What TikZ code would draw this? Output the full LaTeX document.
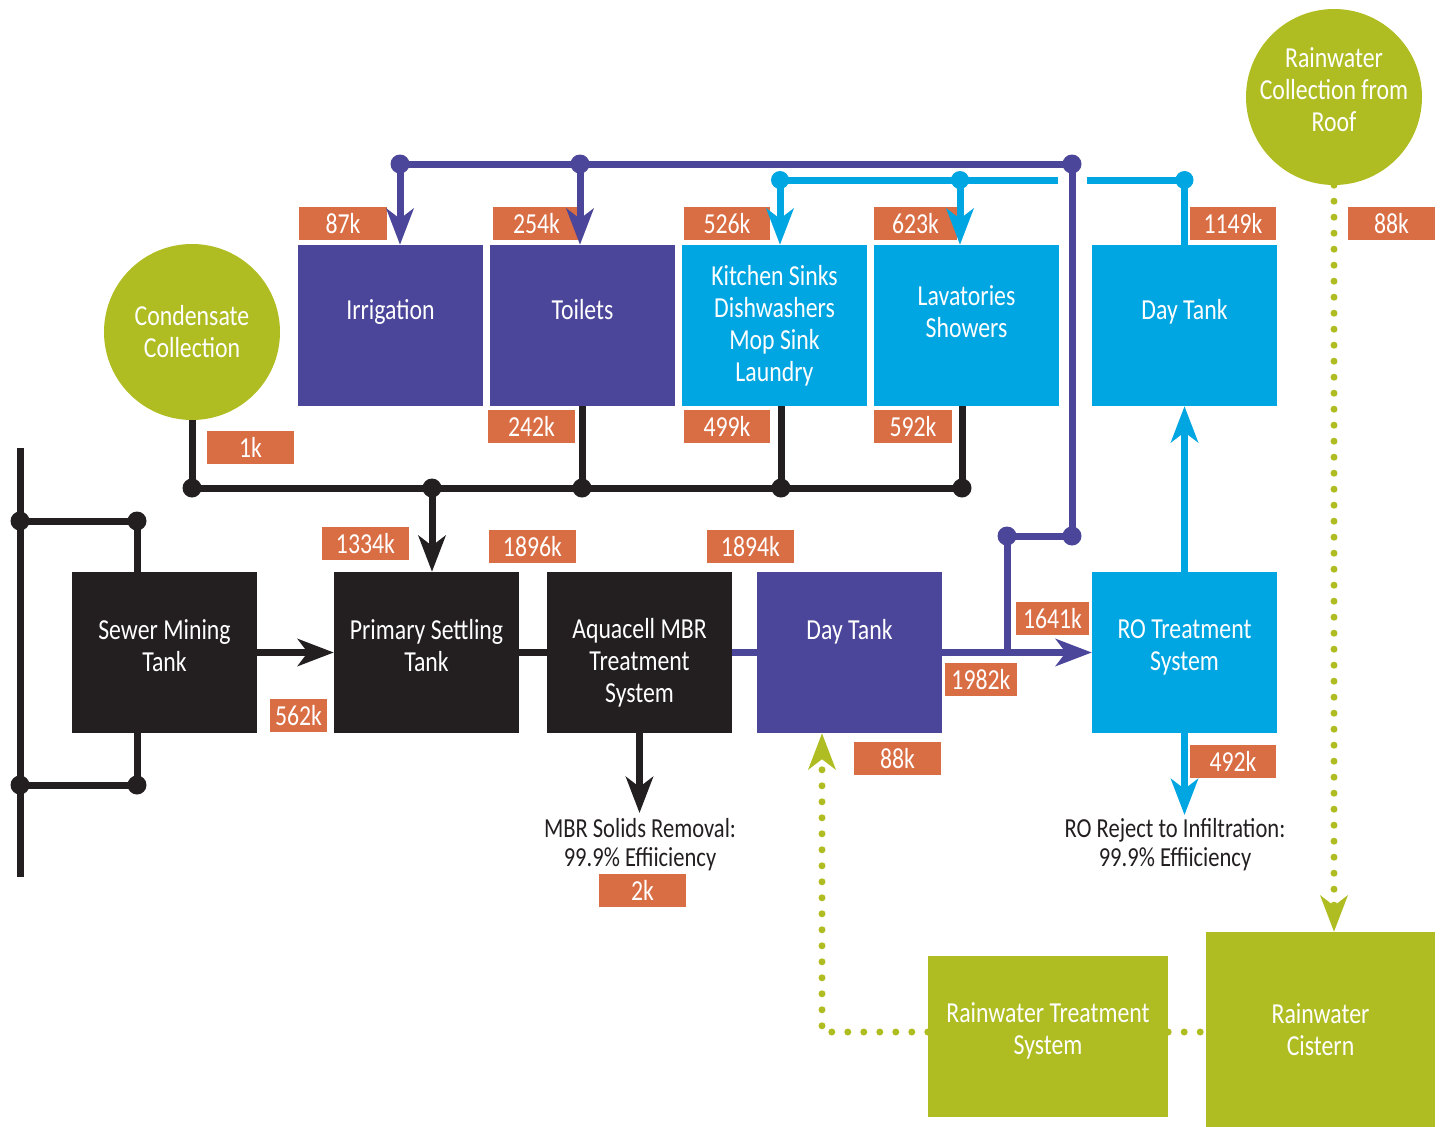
\documentclass[tikz,border=0pt]{standalone}
\usepackage{fontspec}
\setmainfont{Carlito}[FakeStretch=0.82]
\usetikzlibrary{arrows.meta}

\definecolor{wpurple}{RGB}{75,70,153}
\definecolor{wblue}{RGB}{0,166,226}
\definecolor{wblack}{RGB}{35,31,32}
\definecolor{wgreen}{RGB}{175,189,34}
\definecolor{worange}{RGB}{217,109,67}

\newcommand\wboxfont{\fontsize{29}{32}\selectfont}
\newcommand\wtagfont{\fontsize{29}{30}\selectfont}
\newcommand\wnotefont{\fontsize{27.5}{29}\selectfont}

\begin{document}
\begin{tikzpicture}[x=1pt,y=-1pt,
  >={Stealth[length=36pt,width=27pt,inset=10pt]},
  box/.style={minimum width=185pt,minimum height=161pt,inner sep=0pt,text=white,align=center,font=\wboxfont},
  purplebox/.style={box,fill=wpurple},
  bluebox/.style={box,fill=wblue},
  blackbox/.style={box,fill=wblack},
  greenbox/.style={box,fill=wgreen},
  greencircle/.style={circle,fill=wgreen,minimum size=176pt,inner sep=0pt,text=white,align=center,font=\wboxfont},
  flowtag/.style={fill=worange,text=white,minimum width=#1,minimum height=33pt,inner sep=0pt,font=\wtagfont},
  flowtag/.default=87pt,
  note/.style={text=wblack,align=center,font=\wnotefont},
  purpleline/.style={wpurple,line width=7pt},
  blueline/.style={wblue,line width=7pt},
  blackline/.style={wblack,line width=7pt},
  greendot/.style={wgreen,line width=7pt,line cap=round,dash pattern=on 0pt off 16pt}]
 \useasboundingbox (0,0) rectangle (1441,1127);
 % uses
 \node[purplebox,text depth=32pt] (irr)  at (390.5,325.5)  {Irrigation};
 \node[purplebox,text depth=32pt] (toi)  at (582.5,325.5)  {Toilets};
 \node[bluebox] (kit)  at (774.5,325.5)  {Kitchen Sinks\\Dishwashers\\Mop Sink\\Laundry};
 \node[bluebox,text depth=28pt]   (lav)  at (966.5,325.5)  {Lavatories\\Showers};
 \node[bluebox,text depth=32pt]   (dtA)  at (1184.5,325.5) {Day Tank};
 \node[greencircle] (cond) at (192,332) {Condensate\\Collection};
 \node[greencircle,inner sep=-8pt,text depth=14pt] (rain) at (1334,97) {Rainwater\\Collection from\\Roof};
 % treatment train
 \node[blackbox,text depth=14pt] (sew)  at (164.5,652.5)  {Sewer Mining\\Tank};
 \node[blackbox,text depth=14pt] (pst)  at (426.5,652.5)  {Primary Settling\\Tank};
 \node[blackbox,text height=105pt] (aqua) at (639.5,652.5)  {Aquacell MBR\\Treatment\\System};
 \node[purplebox,text depth=46pt] (dtB) at (849.5,652.5) {Day Tank};
 \node[bluebox,text depth=14pt]  (ro)   at (1184.5,652.5) {RO Treatment\\System};
 \node[greenbox,minimum width=240pt,text depth=16pt] (rwt) at (1048,1036.5) {Rainwater Treatment\\System};
 \node[greenbox,minimum width=229pt,minimum height=195pt] (cis) at (1320.5,1029.5) {Rainwater\\Cistern};
 \node[note] (mbrnote) at (640,844.5)  {MBR Solids Removal:\\99.9\% Effiiciency};
 \node[note] (ronote)  at (1175,844.5) {RO Reject to Infiltration:\\99.9\% Effiiciency};
 % flow tags
 \node[flowtag=88pt] (q87)   at (343,223.5)    {87k};
 \node[flowtag]      (q254)  at (536.5,223.5)  {254k};
 \node[flowtag=86pt] (q526)  at (727,223.5)    {526k};
 \node[flowtag=83pt] (q623)  at (915.5,223.5)  {623k};
 \node[flowtag=86pt] (q1149) at (1233,223.5)   {1149k};
 \node[flowtag]      (q88a)  at (1391.5,223.5) {88k};
 \node[flowtag]      (q242)  at (531.5,426.5)  {242k};
 \node[flowtag=86pt] (q499)  at (727,426.5)    {499k};
 \node[flowtag=78pt] (q592)  at (913,426.5)    {592k};
 \node[flowtag]      (q1)    at (250.5,447.5)  {1k};
 \node[flowtag]      (q1334) at (365.5,543.5)  {1334k};
 \node[flowtag]      (q1896) at (532.5,546.5)  {1896k};
 \node[flowtag]      (q1894) at (750.5,546.5)  {1894k};
 \node[flowtag=73pt] (q1641) at (1052.5,618.5) {1641k};
 \node[flowtag=72pt] (q1982) at (981,679.5)    {1982k};
 \node[flowtag=57pt] (q562)  at (298.5,715.5)  {562k};
 \node[flowtag]      (q88b)  at (897.5,758.5)  {88k};
 \node[flowtag=86pt] (q492)  at (1233,761.5)   {492k};
 \node[flowtag]      (q2)    at (642.5,890.5)  {2k};
 % junctions
 \coordinate (pA) at (400,164);  \coordinate (pB) at (580,164);
 \coordinate (pC) at (1072,164); \coordinate (pD) at (1072,536);
 \coordinate (pE) at (1007,536);
 \coordinate (bA) at (780,180);  \coordinate (bB) at (960,180);
 \coordinate (bC) at (1058,180); \coordinate (bD) at (1087,180);
 \coordinate (bE) at (1184.5,180);
 \coordinate (kA) at (192,488);  \coordinate (kB) at (432,488);
 \coordinate (kC) at (582,488);  \coordinate (kD) at (781,488);
 \coordinate (kE) at (962,488);
 \coordinate (lA) at (20,448);   \coordinate (lB) at (20,877);
 \coordinate (lC) at (20,521);   \coordinate (lD) at (137,521);
 \coordinate (lE) at (20,785);   \coordinate (lF) at (137,785);
 \coordinate (mbrOut) at (639.5,813);
 \coordinate (roOut)  at (1184.5,815);
 \coordinate (gA) at (822,1032);
\path[purpleline]
 (pA) edge (pC)
 (pA) edge[->] (pA |- irr.north)
 (pB) edge[->] (pB |- toi.north)
 (aqua) edge (dtB)
 (dtB) edge[->] (ro)
;
\draw[purpleline] (pC) -- (pD) -- (pE) -- (pE |- dtB.east);
\path[blueline]
 (bA) edge (bC)
 (bD) edge (bE)
 (bE) edge (bE |- dtA.north)
 (bA) edge[->] (bA |- kit.north)
 (bB) edge[->] (bB |- lav.north)
 (ro) edge[->] (dtA)
 (ro) edge[->] (roOut)
;
\path[blackline]
 (cond) edge (kA)
 (kA) edge (kE)
 (kC |- toi.south) edge (kC)
 (kD |- kit.south) edge (kD)
 (kE |- lav.south) edge (kE)
 (kB) edge[->] (kB |- pst.north)
 (lA) edge (lB)
 (lC) edge (lD)
 (lD) edge (lD |- sew.north)
 (lE) edge (lF)
 (lF |- sew.south) edge (lF)
 (sew) edge[->] (pst)
 (pst) edge (aqua)
 (aqua) edge[->] (mbrOut)
;
\path[greendot]
 (rain) edge[->] (rain |- cis.north)
 (rwt.east |- gA) edge (cis.west |- gA)
;
\draw[greendot,->] (rwt.west |- gA) -- (gA) -- (gA |- dtB.south);
 \foreach \p in {pA,pB,pC,pD,pE} \fill[wpurple] (\p) circle (9.5pt);
 \foreach \p in {bA,bB,bE} \fill[wblue] (\p) circle (9pt);
 \foreach \p in {kA,kB,kC,kD,kE,lC,lD,lE,lF} \fill[wblack] (\p) circle (9.5pt);
\end{tikzpicture}
\end{document}
